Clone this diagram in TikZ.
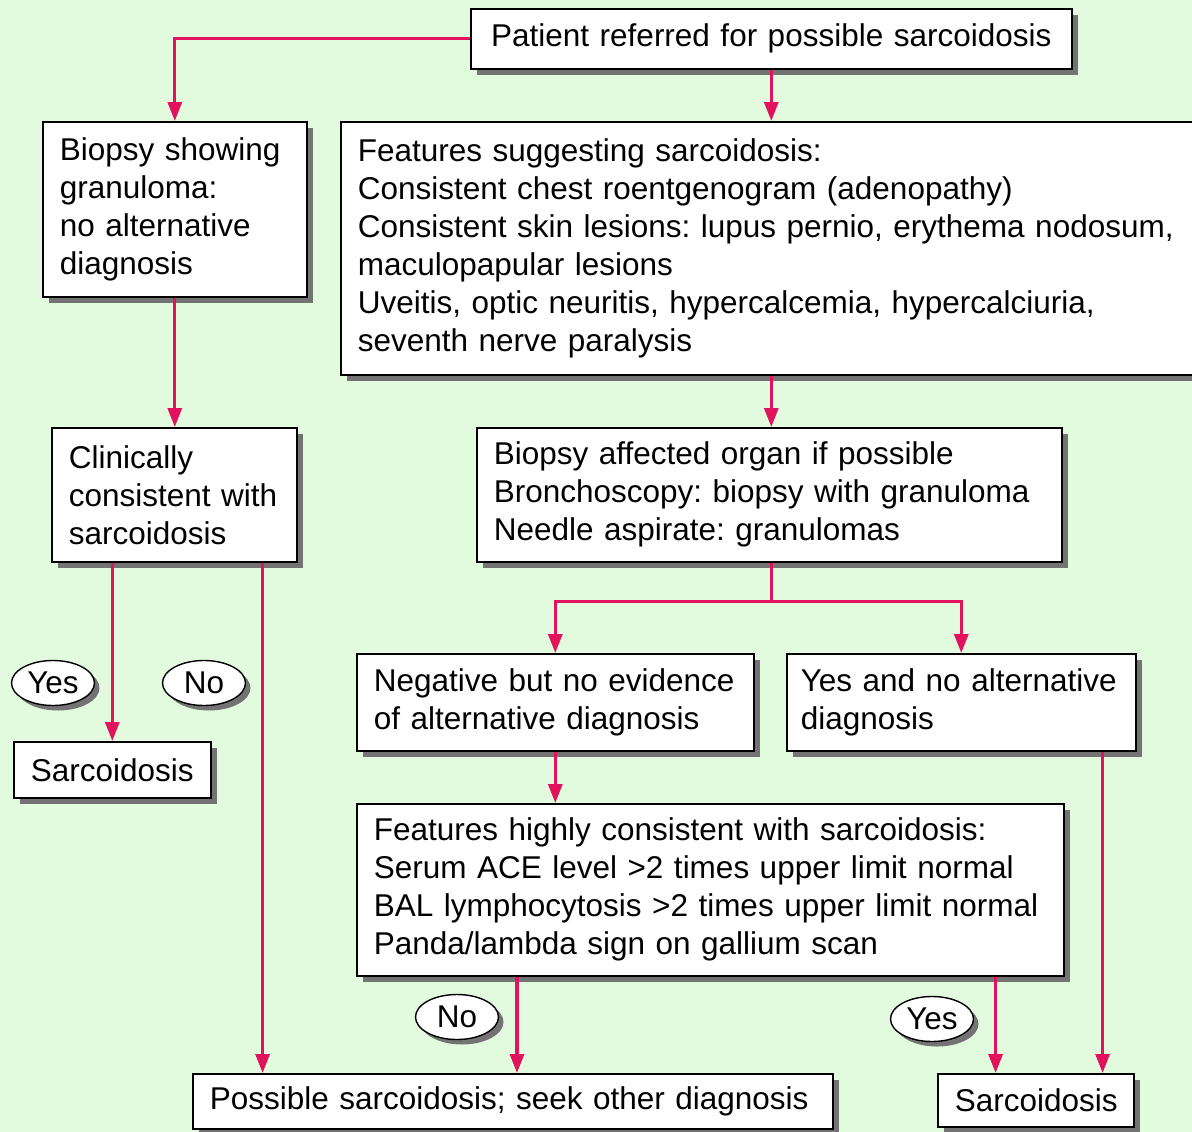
\documentclass[tikz,border=0pt]{standalone}
\usepackage{fontspec}
\setmainfont{Liberation Sans}
\usetikzlibrary{arrows.meta,shadows,shapes.geometric}
\definecolor{bgcol}{RGB}{226,250,222}
\definecolor{flowred}{RGB}{226,18,92}
\tikzset{
  box/.style={draw, fill=white, line width=1.6pt, anchor=north west, align=left,
    inner xsep=17pt, inner ysep=0pt,
    drop shadow={shadow xshift=6pt, shadow yshift=-6pt, fill=black!55, opacity=1}},
  tag/.style={draw, fill=white, ellipse, line width=1.4pt, inner sep=0pt,
    minimum width=83pt, minimum height=45pt,
    drop shadow={shadow xshift=5pt, shadow yshift=-5pt, fill=black!55, opacity=1}},
  flow/.style={draw=flowred, line width=3.2pt, -{Triangle[width=14pt,length=19pt]}},
}
\frenchspacing
\begin{document}
\begin{tikzpicture}[x=1pt, y=-1pt, font=\fontsize{31.5}{38}\selectfont]
   \fill[bgcol] (0,0) rectangle (1192,1132);
   \useasboundingbox (0,0) rectangle (1192,1132);
   \def\pad{34};
   % top row
   \node[box, align=center, text width=601-\pad, minimum height=60] (patient) at (470,8)
      {Patient referred for possible sarcoidosis};
   \node[box, text width=264-\pad, minimum height=175] (biopsy) at (42,121)
      {Biopsy showing\\granuloma:\\no alternative\\diagnosis};
   \node[box, text width=880-\pad, minimum height=253] (features) at (340,121)
      {Features suggesting sarcoidosis:\\Consistent chest roentgenogram (adenopathy)\\
       Consistent skin lesions: lupus pernio, erythema nodosum,\\maculopapular lesions\\
       Uveitis, optic neuritis, hypercalcemia, hypercalciuria,\\seventh nerve paralysis};
   % middle row
   \node[box, text width=245-\pad, minimum height=134] (clinical) at (51,427)
      {Clinically\\consistent with\\sarcoidosis};
   \node[box, text width=585-\pad, minimum height=134] (organ) at (476,427)
      {Biopsy affected organ if possible\\Bronchoscopy: biopsy with granuloma\\Needle aspirate: granulomas};
   \node[box, text width=397-\pad, minimum height=97] (negative) at (356,653)
      {Negative but no evidence\\of alternative diagnosis};
   \node[box, inner xsep=14pt, text width=349-28, minimum height=97] (yesalt) at (786,653)
      {Yes and no alternative\\diagnosis};
   \node[box, text width=197-\pad, minimum height=56] (sarcl) at (13,741) {Sarcoidosis};
   \node[box, text width=707-\pad, minimum height=172] (highly) at (356,803)
      {Features highly consistent with sarcoidosis:\\Serum ACE level \textgreater2 times upper limit normal\\
       BAL lymphocytosis \textgreater2 times upper limit normal\\Panda/lambda sign on gallium scan};
   % bottom row
   \node[box, text width=640-\pad, minimum height=55] (possible) at (192,1073)
      {Possible sarcoidosis; seek other diagnosis};
   \node[box, text width=196-\pad, minimum height=53] (sarcr) at (937,1073) {Sarcoidosis};
   % yes / no tags
   \node[tag] (yesA) at (53,683) {Yes};
   \node[tag] (noA) at (204,683) {No};
   \node[tag] (noB) at (457,1017) {No};
   \node[tag] (yesB) at (932,1019) {Yes};
   % connectors
   \draw[flow] (patient.west) -| (biopsy.north);
   \draw[flow] (patient.south) -- (patient.south |- features.north);
   \draw[flow] (biopsy.south) -- (biopsy.south |- clinical.north);
   \draw[flow] (patient.south |- features.south) -- (patient.south |- organ.north);
   \draw[flow] (sarcl.north |- clinical.south) -- (sarcl.north);
   \draw[flow] ([xshift=-35pt]clinical.south east) -- ([xshift=-35pt]clinical.south east |- possible.north);
   \draw[flow] (patient.south |- organ.south) -- ++(0,39) -| (negative.north);
   \draw[flow] (patient.south |- organ.south) -- ++(0,39) -| (yesalt.north);
   \draw[flow] (negative.south) -- (negative.south |- highly.north);
   \draw[flow] ([xshift=161pt]highly.south west) -- ([xshift=161pt]highly.south west |- possible.north);
   \draw[flow] ([xshift=-69pt]highly.south east) -- ([xshift=-69pt]highly.south east |- sarcr.north);
   \draw[flow] ([xshift=-34pt]yesalt.south east) -- ([xshift=-34pt]yesalt.south east |- sarcr.north);
\end{tikzpicture}
\end{document}
